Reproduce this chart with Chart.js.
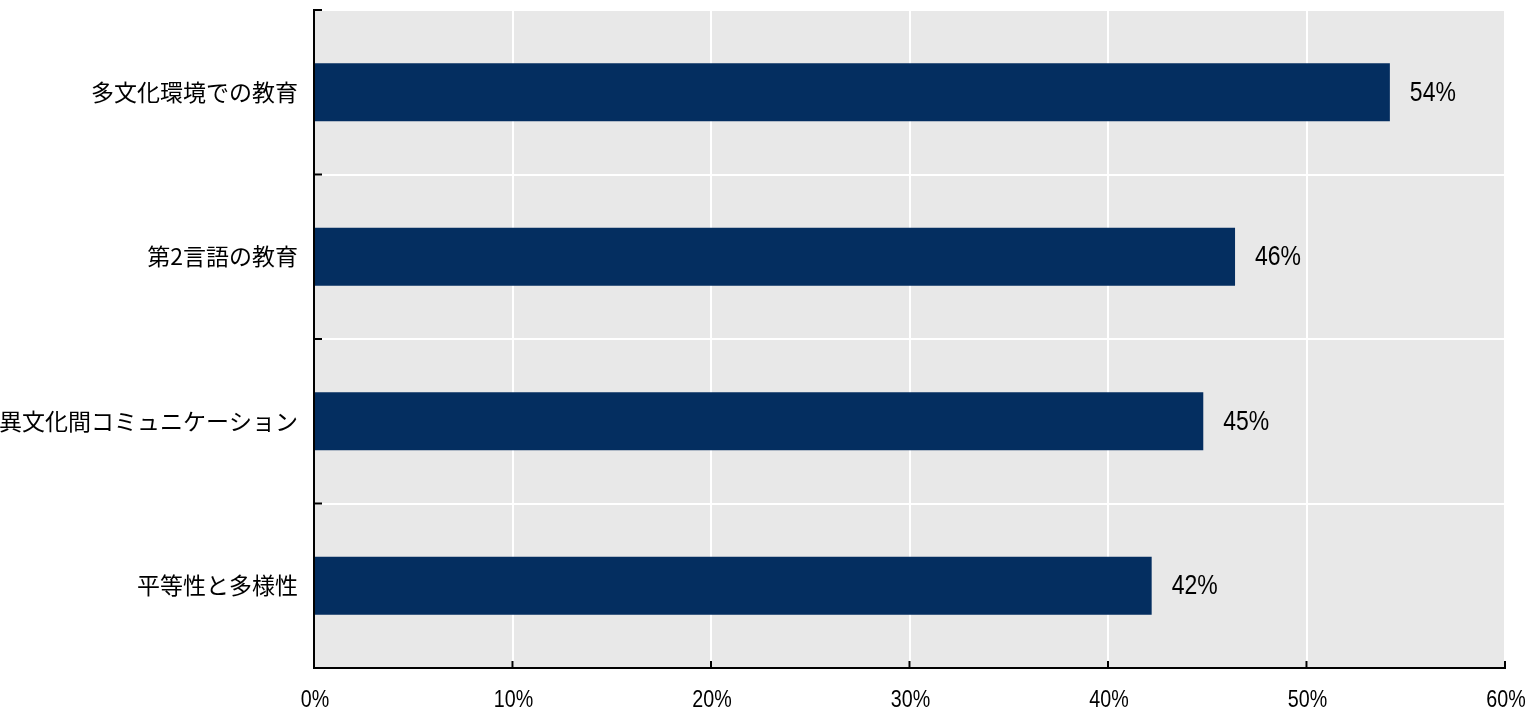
<!DOCTYPE html>
<html>
<head>
<meta charset="utf-8">
<script src="https://cdn.jsdelivr.net/npm/chart.js@4/dist/chart.umd.min.js"></script>
<style>
html,body{margin:0;padding:0;background:#fff;}
#wrap{width:1530px;height:711px;position:relative;}
</style>
</head>
<body>
<div id="wrap"><canvas id="c" width="1530" height="711"></canvas></div>
<script>
const categories = ["多文化環境での教育", "第2言語の教育", "異文化間コミュニケーション", "平等性と多様性"];
const values = [54.2, 46.4, 44.8, 42.2];
const xTickValues = [0, 10, 20, 30, 40, 50, 60];

const SANS = '"Liberation Sans", Arial, sans-serif';
const CJK = '"Noto Sans CJK JP", "Noto Sans", sans-serif';
const NARROW_SCALE = 0.82;

function narrowText(ctx, text, x, y, align, baseline, size) {
  ctx.save();
  ctx.font = size + 'px ' + SANS;
  ctx.fillStyle = '#000';
  ctx.textAlign = align;
  ctx.textBaseline = baseline;
  ctx.translate(x, y);
  ctx.scale(NARROW_SCALE, 1);
  ctx.fillText(text, 0, 0);
  ctx.restore();
}

const bgPlugin = {
  id: 'bg',
  beforeDraw(chart) {
    const {ctx, chartArea: a} = chart;
    ctx.save();
    ctx.fillStyle = '#e8e8e8';
    ctx.fillRect(a.left, a.top, a.right - a.left, a.bottom - a.top);
    ctx.restore();
  }
};

const tickPlugin = {
  id: 'innerTicks',
  afterDraw(chart) {
    const {ctx, chartArea: a, scales} = chart;
    ctx.save();
    ctx.strokeStyle = '#000';
    ctx.lineWidth = 2;
    xTickValues.forEach(v => {
      const x = scales.x.getPixelForValue(v);
      ctx.beginPath();
      ctx.moveTo(x, a.bottom);
      ctx.lineTo(x, a.bottom - 7);
      ctx.stroke();
    });
    const n = categories.length;
    for (let i = 0; i <= n; i++) {
      const y = a.top + (a.bottom - a.top) * i / n;
      ctx.beginPath();
      ctx.moveTo(a.left, y);
      ctx.lineTo(a.left + 8, y);
      ctx.stroke();
    }
    ctx.restore();
    // x tick labels (narrow)
    xTickValues.forEach(v => {
      const x = scales.x.getPixelForValue(v);
      narrowText(ctx, v + '%', x + 1, a.bottom + 39, 'center', 'alphabetic', 24);
    });
  }
};

const labelPlugin = {
  id: 'valueLabels',
  afterDatasetsDraw(chart) {
    const {ctx} = chart;
    const meta = chart.getDatasetMeta(0);
    meta.data.forEach((bar, i) => {
      narrowText(ctx, Math.round(values[i]) + '%', bar.x + 20, bar.y + 1, 'left', 'middle', 28);
    });
  }
};

function noPad(scale) {
  scale.paddingTop = 0; scale.paddingBottom = 0;
  scale.paddingLeft = 0; scale.paddingRight = 0;
}

new Chart(document.getElementById('c'), {
  type: 'bar',
  data: {
    labels: categories,
    datasets: [{
      data: values,
      backgroundColor: '#042e60',
      borderWidth: 0,
      categoryPercentage: 1,
      barPercentage: 0.353
    }]
  },
  options: {
    indexAxis: 'y',
    responsive: false,
    animation: false,
    devicePixelRatio: 1,
    layout: {padding: {top: 10, right: 25, left: 0, bottom: 0}},
    plugins: {legend: {display: false}, tooltip: {enabled: false}},
    scales: {
      x: {
        min: 0, max: 60,
        afterBuildTicks(scale) { scale.ticks = xTickValues.map(v => ({value: v})); },
        afterFit(scale) { scale.height = 43; noPad(scale); },
        grid: {color: '#ffffff', lineWidth: 2, drawTicks: false},
        border: {color: '#000', width: 2},
        ticks: {display: false}
      },
      y: {
        afterFit(scale) { scale.width = 314; noPad(scale); },
        grid: {color: '#ffffff', lineWidth: 2, drawTicks: false, offset: true},
        border: {color: '#000', width: 2},
        ticks: {
          padding: 16,
          color: '#000',
          font: {size: 23, family: CJK}
        }
      }
    }
  },
  plugins: [bgPlugin, tickPlugin, labelPlugin]
});
</script>
</body>
</html>
